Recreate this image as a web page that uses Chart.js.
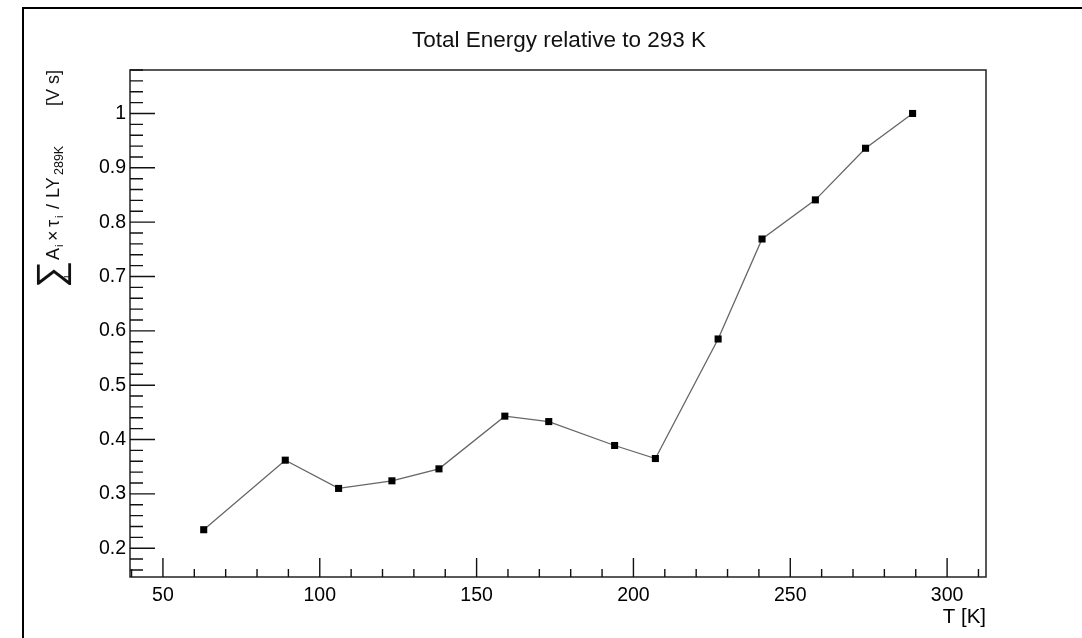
<!DOCTYPE html>
<html>
<head>
<meta charset="utf-8">
<script src="https://cdn.jsdelivr.net/npm/chart.js@4/dist/chart.umd.min.js"></script>
<style>
  html, body { margin: 0; padding: 0; background: #fff; }
  #wrap { width: 1082px; height: 638px; }
</style>
</head>
<body>
<div id="wrap"><canvas id="c" width="1082" height="638"></canvas></div>
<script>
// ---- data ----
const temperatures = [63, 89, 106, 123, 138, 159, 173, 194, 207, 227, 241, 258, 274, 289];
const energies     = [0.234, 0.362, 0.310, 0.324, 0.346, 0.443, 0.433, 0.389, 0.365, 0.585, 0.769, 0.841, 0.936, 1.0];
const xTickValues  = [50, 100, 150, 200, 250, 300];
const yTickValues  = [0.2, 0.3, 0.4, 0.5, 0.6, 0.7, 0.8, 0.9, 1];
const titleText    = 'Total Energy relative to 293 K';
const xTitleText   = 'T [K]';

const FONT = "'Liberation Sans', Arial, Helvetica, sans-serif";
const X_MIN = 39.5, X_MAX = 312.4, Y_MIN = 0.147, Y_MAX = 1.08;

// minor tick positions (axis decoration)
const xMinor = []; for (let v = 40; v <= 310; v += 10) xMinor.push(v);
const yMinor = []; for (let k = 8; k <= 54; k++) yMinor.push(k / 50);

const decor = {
  id: 'decor',
  beforeDraw(chart) {
    const ctx = chart.ctx;
    ctx.save();
    ctx.fillStyle = '#fff';
    ctx.fillRect(0, 0, chart.width, chart.height);
    // outer frame (top + left)
    ctx.strokeStyle = '#000';
    ctx.lineWidth = 2;
    ctx.beginPath();
    ctx.moveTo(23, 638); ctx.lineTo(23, 8); ctx.lineTo(1082, 8);
    ctx.stroke();
    // title
    ctx.fillStyle = '#111';
    ctx.font = '22.5px ' + FONT;
    ctx.textAlign = 'center';
    ctx.textBaseline = 'middle';
    ctx.fillText(titleText, 559, 41);
    ctx.restore();
  },
  afterDraw(chart) {
    const ctx = chart.ctx;
    const a = chart.chartArea;
    const xs = chart.scales.x, ys = chart.scales.y;
    ctx.save();
    // plot frame
    ctx.strokeStyle = '#222';
    ctx.lineWidth = 1.5;
    ctx.strokeRect(a.left, a.top, a.right - a.left, a.bottom - a.top);
    // ticks pointing inward
    ctx.lineWidth = 1.4;
    ctx.strokeStyle = '#111';
    ctx.beginPath();
    xMinor.forEach(v => {
      const px = xs.getPixelForValue(v);
      if (px < a.left || px > a.right) return;
      const major = xTickValues.includes(v);
      const len = major ? 19 : 8;
      ctx.moveTo(px, a.bottom); ctx.lineTo(px, a.bottom - len);
    });
    yMinor.forEach(v => {
      const py = ys.getPixelForValue(v);
      if (py < a.top || py > a.bottom) return;
      const major = yTickValues.some(t => Math.abs(t - v) < 1e-9);
      const len = major ? 25 : 13;
      ctx.moveTo(a.left, py); ctx.lineTo(a.left + len, py);
    });
    ctx.stroke();

    // y-axis title with subscripts (rotated)
    ctx.fillStyle = '#111';
    ctx.translate(59, 287);
    ctx.rotate(-Math.PI / 2);
    ctx.textAlign = 'left';
    ctx.textBaseline = 'alphabetic';
    const put = (txt, x, y, size) => { ctx.font = size + 'px ' + FONT; ctx.fillText(txt, x, y); };
    put('\u2211', -1, 4, 38);
    put('i', 9, 12, 12);
    put('A', 27, 0, 18);
    put('i', 40, 4, 11);
    put('\u00d7', 46, 0, 18);
    put('\u03c4', 60, 0, 18);
    put('i', 69, 4, 11);
    put('/', 78, 0, 18);
    put('LY', 89, 0, 18);
    put('289K', 112, 4, 12.5);
    put('[V s]', 181, 0, 18);
    ctx.restore();
  }
};

new Chart(document.getElementById('c'), {
  type: 'line',
  data: {
    datasets: [{
      data: temperatures.map((t, i) => ({ x: t, y: energies[i] })),
      borderColor: '#666',
      borderWidth: 1.3,
      pointStyle: 'rect',
      pointRadius: 5,
      pointBackgroundColor: '#000',
      pointBorderColor: '#000',
      pointBorderWidth: 0,
      tension: 0,
      fill: false
    }]
  },
  options: {
    responsive: false,
    animation: false,
    layout: { padding: { left: 0, right: 96, top: 70, bottom: 0 } },
    plugins: {
      legend: { display: false },
      tooltip: { enabled: false },
      title: { display: false }
    },
    scales: {
      x: {
        type: 'linear',
        min: X_MIN, max: X_MAX,
        afterBuildTicks: s => { s.ticks = xTickValues.map(v => ({ value: v })); },
        afterFit: s => { s.height = 61; },
        grid: { display: false, drawTicks: false },
        border: { display: false },
        ticks: {
          color: '#000',
          padding: 7,
          maxRotation: 0,
          autoSkip: false,
          font: { family: FONT, size: 19.5 },
          callback: v => String(v)
        },
        title: {
          display: true,
          text: xTitleText,
          align: 'end',
          color: '#000',
          font: { family: FONT, size: 20.5 },
          padding: { top: 0, bottom: 8 }
        }
      },
      y: {
        type: 'linear',
        min: Y_MIN, max: Y_MAX,
        afterBuildTicks: s => { s.ticks = yTickValues.map(v => ({ value: v })); },
        afterFit: s => { s.width = 130; },
        grid: { display: false, drawTicks: false },
        border: { display: false },
        ticks: {
          color: '#000',
          padding: 4,
          autoSkip: false,
          font: { family: FONT, size: 19.5 },
          callback: v => String(Math.round(v * 10) / 10)
        }
      }
    }
  },
  plugins: [decor]
});
</script>
</body>
</html>
